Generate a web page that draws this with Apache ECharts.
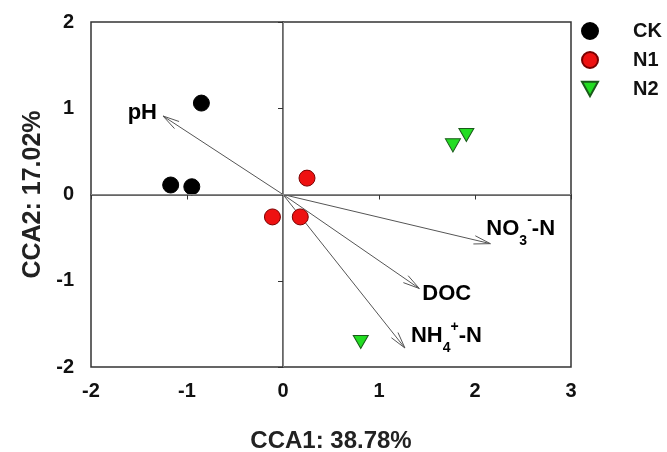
<!DOCTYPE html>
<html>
<head>
    <meta charset="utf-8">
    <title>CCA</title>
    <script src="https://cdn.jsdelivr.net/npm/echarts@6/dist/echarts.min.js"></script>
</head>
<body style="margin:0">
    <div id="main" style="width: 667px;height:452px;"></div>
    <script type="text/javascript">
        // sample scores
        var ckX = [-0.85, -1.17, -0.95];
        var ckY = [1.06, 0.11, 0.09];
        var n1X = [0.25, -0.11, 0.18];
        var n1Y = [0.19, -0.26, -0.26];
        var n2X = [1.77, 1.91, 0.81];
        var n2Y = [0.57, 0.69, -1.71];

        // environmental vectors
        var envNames = ['pH', 'NO3-N', 'DOC', 'NH4-N'];
        var envX = [-1.25, 2.16, 1.42, 1.27];
        var envY = [0.91, -0.57, -1.09, -1.78];

        var xTicks = [-2, -1, 0, 1, 2, 3];
        var yTicks = [-2, -1, 0, 1, 2];

        // label text with sub/superscript
        var envText = {
            'pH': '{m|pH}',
            'NO3-N': '{m|NO}{sub|3}{sup|-}{m|-N}',
            'DOC': '{m|DOC}',
            'NH4-N': '{m|NH}{sub|4}{sup|+}{m|-N}'
        };
        // label placement relative to arrow tip
        var envLabel = {
            'pH': {dx: -6, dy: -3, align: 'right'},
            'NO3-N': {dx: -4, dy: -15, align: 'left'},
            'DOC': {dx: 3, dy: 5, align: 'left'},
            'NH4-N': {dx: 6, dy: -12, align: 'left'}
        };

        function pairs(xs, ys) {
            var out = [];
            for (var i = 0; i < xs.length; i++) out.push([xs[i], ys[i]]);
            return out;
        }

        var envData = [];
        for (var i = 0; i < envNames.length; i++) envData.push([envX[i], envY[i], i]);

        var font = 'Liberation Sans, Arial, sans-serif';
        var triDown = 'path://M0,0L10,0L5,9Z';

        var myChart = echarts.init(document.getElementById('main'));

        var option = {
            animation: false,
            grid: {
                left: 91, right: 96, top: 22, bottom: 85,
                outerBoundsMode: 'none',
                show: true, borderColor: '#333', borderWidth: 1.5
            },
            legend: {
                orient: 'vertical',
                left: 581,
                top: 21,
                padding: 0,
                itemGap: 9,
                itemWidth: 16,
                itemHeight: 16,
                data: ['CK', 'N1', 'N2'],
                textStyle: {
                    fontFamily: font, fontWeight: 'bold', fontSize: 20, color: '#111',
                    padding: [0, 0, 0, 30]
                }
            },
            xAxis: {
                type: 'value',
                min: xTicks[0], max: xTicks[xTicks.length - 1], interval: 1,
                name: 'CCA1: 38.78%',
                nameLocation: 'middle',
                nameGap: 62,
                nameTextStyle: {fontFamily: font, fontWeight: 'bold', fontSize: 24, color: '#222'},
                axisLine: {lineStyle: {color: '#333', width: 1.5}},
                axisTick: {inside: false, length: 5, lineStyle: {color: '#333'}},
                axisLabel: {fontFamily: font, fontWeight: 'bold', fontSize: 20, color: '#111', margin: 14},
                splitLine: {show: false}
            },
            yAxis: {
                type: 'value',
                min: yTicks[0], max: yTicks[yTicks.length - 1], interval: 1,
                name: 'CCA2: 17.02%',
                nameLocation: 'middle',
                nameGap: 45,
                nameTextStyle: {fontFamily: font, fontWeight: 'bold', fontSize: 25, color: '#222'},
                axisLine: {lineStyle: {color: '#333', width: 1.5}},
                axisTick: {inside: false, length: 5, lineStyle: {color: '#333'}},
                axisLabel: {fontFamily: font, fontWeight: 'bold', fontSize: 20, color: '#111', margin: 17},
                splitLine: {show: false}
            },
            series: [
                {
                    type: 'custom',
                    name: 'env',
                    data: envData,
                    z: 1,
                    renderItem: function (params, api) {
                        var o = api.coord([0, 0]);
                        var t = api.coord([api.value(0), api.value(1)]);
                        var nm = envNames[api.value(2)];
                        var ang = Math.atan2(t[1] - o[1], t[0] - o[0]);
                        var L = 17, a = 0.25;
                        var p1 = [t[0] - L * Math.cos(ang - a), t[1] - L * Math.sin(ang - a)];
                        var p2 = [t[0] - L * Math.cos(ang + a), t[1] - L * Math.sin(ang + a)];
                        var lb = envLabel[nm];
                        return {
                            type: 'group',
                            children: [
                                {type: 'line', shape: {x1: o[0], y1: o[1], x2: t[0], y2: t[1]},
                                    style: {stroke: '#555', lineWidth: 1}},
                                {type: 'polyline', shape: {points: [p1, t, p2]},
                                    style: {stroke: '#555', fill: null, lineWidth: 1}},
                                {type: 'text', x: t[0] + lb.dx, y: t[1] + lb.dy,
                                    style: {
                                        text: envText[nm],
                                        align: lb.align,
                                        verticalAlign: 'middle',
                                        rich: {
                                            m: {fontFamily: font, fontWeight: 'bold', fontSize: 22, color: '#111'},
                                            sub: {fontFamily: font, fontWeight: 'bold', fontSize: 14, color: '#111', padding: [24, 0, 0, 0]},
                                            sup: {fontFamily: font, fontWeight: 'bold', fontSize: 14, color: '#111', padding: [0, 0, 18, 0]}
                                        }
                                    }}
                            ]
                        };
                    }
                },
                {
                    name: 'CK',
                    type: 'scatter',
                    data: pairs(ckX, ckY),
                    symbol: 'circle',
                    symbolSize: 16,
                    itemStyle: {color: '#000', borderColor: '#000', borderWidth: 1, opacity: 1},
                    z: 3,
                    markLine: {
                        silent: true,
                        symbol: 'none',
                        label: {show: false},
                        lineStyle: {color: '#888', type: 'solid', width: 1},
                        data: [{xAxis: 0}, {yAxis: 0}]
                    }
                },
                {
                    name: 'N1',
                    type: 'scatter',
                    data: pairs(n1X, n1Y),
                    symbol: 'circle',
                    symbolSize: 16,
                    itemStyle: {color: '#ee1111', borderColor: '#7a0000', borderWidth: 1, opacity: 1},
                    z: 3
                },
                {
                    name: 'N2',
                    type: 'scatter',
                    data: pairs(n2X, n2Y),
                    symbol: triDown,
                    symbolSize: [15, 13],
                    itemStyle: {color: '#22dd22', borderColor: '#1a5a1a', borderWidth: 1, opacity: 1},
                    z: 3
                }
            ]
        };

        myChart.setOption(option);
    </script>
</body>
</html>
